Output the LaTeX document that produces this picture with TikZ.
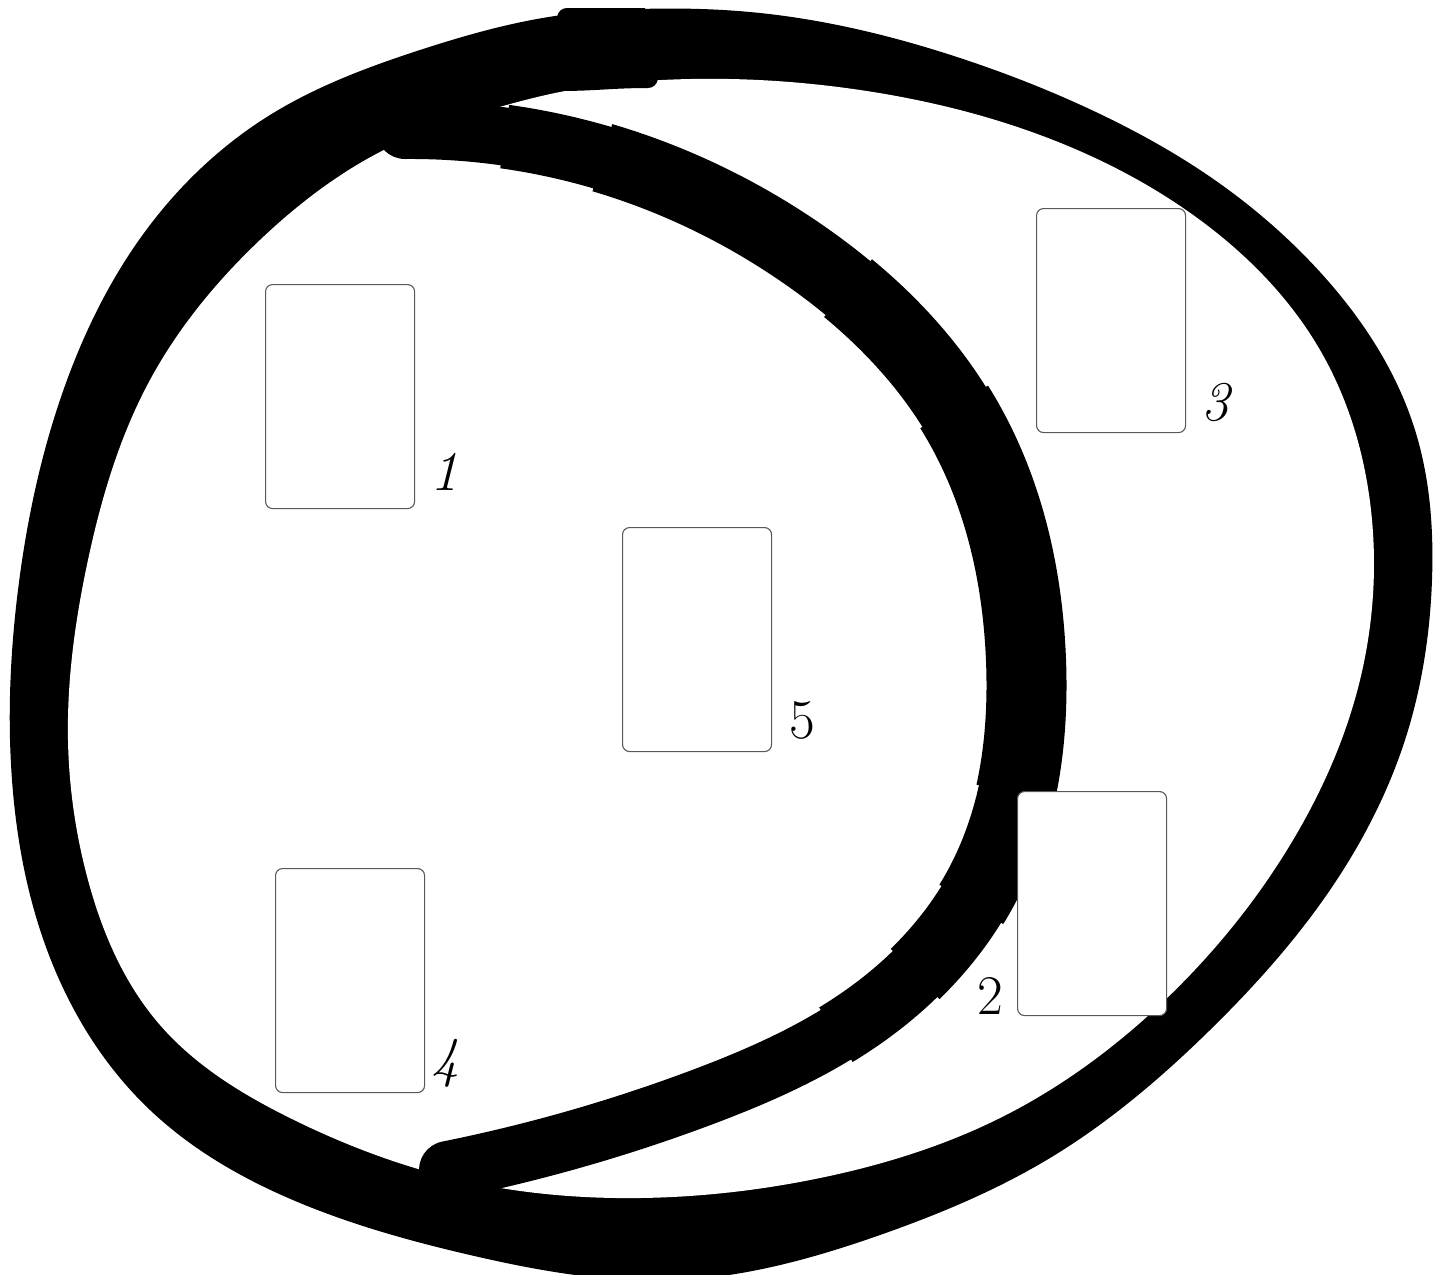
\documentclass[tikz,border=0pt]{standalone}
\usetikzlibrary{hobby}
\begin{document}
\begin{tikzpicture}[x=1pt,y=-1pt,
  card/.style={draw=black!65, line width=1.1pt, fill=white, rounded corners=7pt,
    minimum width=149pt, minimum height=224pt, inner sep=0pt, anchor=north west},
  num/.style={font=\fontsize{56}{60}\selectfont, inner sep=0pt, anchor=base west},
  band/.style={fill=black, use Hobby shortcut, closed=true},
  dband/.style={draw=black, use Hobby shortcut}]
\useasboundingbox (0,0) rectangle (1444,1275);
\clip (0,0) rectangle (1444,1275);
% big outer loop (outer boundary)
\fill[band] (555,16) .. (640,9) .. (760,13) .. (960,58) .. (1100,114) .. (1200,170) .. (1320,272) .. (1415,430)
 .. (1432,580) .. (1405,740) .. (1330,890) .. (1210,1030) .. (1050,1158) .. (880,1235)
 .. (680,1280) .. (470,1255) .. (300,1203) .. (150,1110) .. (55,970) .. (12,780)
 .. (18,590) .. (60,400) .. (150,225) .. (270,115) .. (420,50);
% start of the right-hand strand (small step at the top)
\fill (557,40) -- (557,17) to[out=80,in=180] (567,8) -- (645,8) -- (645,40) -- cycle;
% its inner boundary
\fill[band, fill=white] (662,80) .. (860,90) .. (1040,135) .. (1200,220) .. (1320,350)
 .. (1372,520) .. (1360,680) .. (1290,845) .. (1165,1000) .. (1000,1118) .. (820,1178)
 .. (640,1198) .. (460,1180) .. (290,1118) .. (160,1025) .. (88,880) .. (68,740)
 .. (88,560) .. (150,380) .. (260,240) .. (380,152) .. (503,106) .. (560,92);
% end of the left-hand strand (small step at the top)
\fill (560,60) -- (560,91) to[out=0,in=180] (648,88) to[out=0,in=-100] (658,79) -- (658,60) -- cycle;
% inner D-shaped band: one centre line, drawn in widening overlapping pieces
\coordinate (dA) at (405,130);
\coordinate (dZ) at (448,1170);
\draw[dband, line width=58pt, line cap=round]
  (dA) .. (600,157) .. (800,252) .. (962,420) .. (1026,660) .. (985,880)
  .. (870,1012) .. (700,1098) .. (dZ);
\foreach \w/\pre/\len in {64/100/1250, 70/200/1050, 75/480/680, 80/640/400} {
  \draw[dband, line width=\w pt, line cap=butt,
        dash pattern=on 0pt off \pre pt on \len pt off 6000pt]
    (dA) .. (600,157) .. (800,252) .. (962,420) .. (1026,660) .. (985,880)
    .. (870,1012) .. (700,1098) .. (dZ);
}
% cards
\node[card] (b1) at (265,284) {};
\node[card] (b3) at (1036,208) {};
\node[card] (b5) at (622,527) {};
\node[card] (b2) at (1017,791) {};
\node[card] (b4) at (275,868) {};
% labels
\node[num] (l1) at (430,490) {\itshape 1};
\node[num] (l3) at (1201,420) {\itshape 3};
\node[num] (l5) at (789,738) {5};
\node[num] (l4) at (431,1076) {\itshape 4};
\node[num, anchor=base east] (l2) at (1003,1014) {2};
\end{tikzpicture}
\end{document}
